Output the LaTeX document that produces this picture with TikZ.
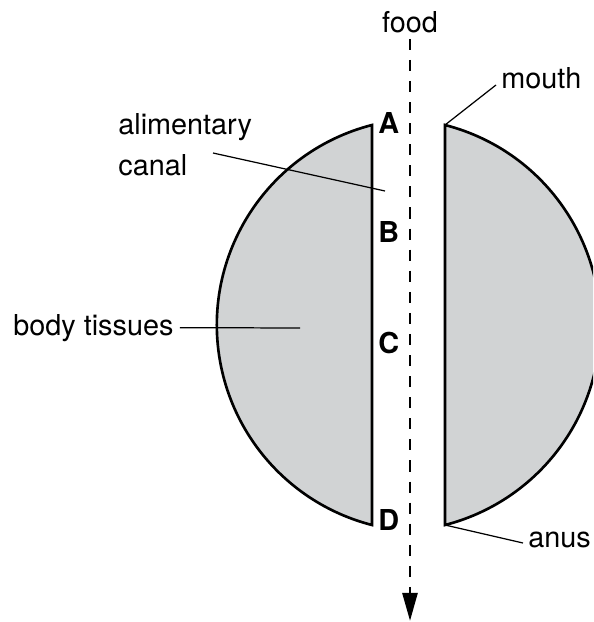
\documentclass[tikz,border=0pt]{standalone}
\usepackage{fontspec}
\setmainfont{TeX Gyre Heros}
\usetikzlibrary{arrows.meta,calc}
\definecolor{tissue}{HTML}{D1D3D4}

\begin{document}
\begin{tikzpicture}[
    x=0.02cm, y=-0.02cm,
    font=\fontsize{16.4}{23.2}\selectfont,
    body/.style={draw=black, fill=tissue, line width=1.5pt, line join=miter},
    lbl/.style={inner sep=0pt, align=left},
    letter/.style={inner sep=0pt, font=\fontsize{16.4}{20}\selectfont\bfseries},
    lead/.style={draw, line width=0.7pt},
    flow/.style={draw, line width=1.7pt, dash pattern=on 6.3pt off 5.7pt,
        -{Triangle[width=8.5pt,length=16pt]}}
]
\clip (0,0) rectangle (593,622);

% the two halves of the body
\draw[body] (372,125) arc[start angle=255.6, end angle=104.4, radius=206.5] -- cycle;
\draw[body] (445,125) arc[start angle=-75.6, end angle=75.6, radius=206.5] -- cycle;

\coordinate (mouthpt) at (445,125);
\coordinate (anuspt) at (445,525);
\coordinate (tissuept) at (300,328);
\coordinate (canalpt) at (385,191);
\coordinate (canalend) at (213,153);
\coordinate (foodend) at (410,621);

% labels
\node[lbl, anchor=base] (food) at (410,32) {food};
\node[lbl, anchor=base west] (mouth) at (501,88) {mouth};
\node[lbl, anchor=base west] (anus) at (528,547) {anus};
\node[lbl, anchor=base west] (tissues) at (13,335) {body tissues};
\node[lbl, anchor=north west] (canal) at (118,113) {alimentary\\canal};

\node[letter, anchor=base west] (A) at (378,133) {A};
\node[letter, anchor=base west] (B) at (378,242) {B};
\node[letter, anchor=base west] (C) at (378,353) {C};
\node[letter, anchor=base west] (D) at (378,530) {D};

% leader lines
\draw[lead] (mouthpt) -- ($(mouth.base west)+(-5,-3)$);
\draw[lead] (anuspt) -- ($(anus.base west)+(-5,-4)$);
\draw[lead] ($(tissues.east)+(6,0)$) -- (tissuept);
\draw[lead] (canalend) -- (canalpt);

% food path
\draw[flow] ($(food.south)+(0,6)$) -- (foodend);
\end{tikzpicture}
\end{document}
